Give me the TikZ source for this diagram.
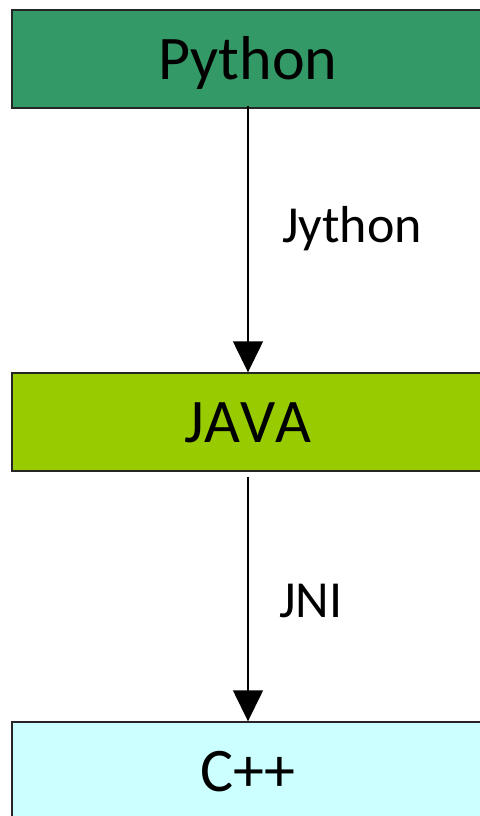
\documentclass[tikz,border=0pt]{standalone}
\usepackage{fontspec}
\setmainfont[Kerning=Off]{Carlito}
\usetikzlibrary{arrows.meta}
\definecolor{pygreen}{HTML}{339966}
\definecolor{javagreen}{HTML}{99CC00}
\definecolor{cppcyan}{HTML}{CCFFFF}
\begin{document}
\begin{tikzpicture}[x=1pt,y=-1pt,
  box/.style={draw=black!85,line width=1.4pt,rectangle,minimum width=472pt,minimum height=98pt,
    inner sep=0pt,font=\fontsize{62}{70}\selectfont,text height=40pt,text depth=0pt},
  lbl/.style={font=\fontsize{52}{60}\selectfont,inner sep=0pt,anchor=base west},
  arr/.style={line width=1.4pt,-{Triangle[width=30pt,length=31pt]}}]
\useasboundingbox (0,0) rectangle (479,816);
\node[box,fill=pygreen] (py) at (248,59) {Python};
\node[box,fill=javagreen] (java) at (248,422) {JAVA};
\node[box,fill=cppcyan] (cpp) at (248,771) {C++};
\draw[arr] ([yshift=3pt]py.south) -- (java.north);
\draw[arr] ([yshift=-5pt]java.south) -- (cpp.north);
\node[lbl] (jy) at (282,242) {Jython};
\node[lbl] (jni) at (279,617) {JNI};
\end{tikzpicture}
\end{document}
